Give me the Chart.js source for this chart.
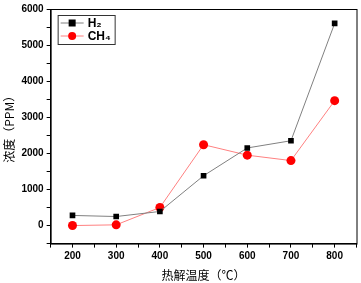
<!DOCTYPE html>
<html>
<head>
<meta charset="utf-8">
<script src="https://cdn.jsdelivr.net/npm/chart.js@4/dist/chart.umd.min.js"></script>
<style>
  body { margin: 0; background: #fff; }
  #wrap { width: 361px; height: 283px; }
</style>
</head>
<body>
<div id="wrap"><canvas id="c"></canvas></div>
<script>
const temps = [200, 300, 400, 500, 600, 700, 800];
const h2 = [280, 250, 390, 1380, 2150, 2350, 5600];
const ch4 = [0, 20, 500, 2240, 1950, 1800, 3460];
const seriesNames = ['H\u2082', 'CH\u2084'];

// frame + legend box
const framePlugin = {
  id: 'frame',
  afterDraw(chart) {
    const { ctx, chartArea: a } = chart;
    ctx.save();
    ctx.strokeStyle = '#000';
    ctx.lineWidth = 1;
    ctx.strokeRect(a.left + 0.5, a.top + 0.5, a.right - a.left, a.bottom - a.top);

    // legend
    const lx = a.left + 7, ly = a.top + 6, lw = 57, lh = 29;
    ctx.strokeStyle = '#333';
    ctx.strokeRect(lx + 0.5, ly + 0.5, lw, lh);
    const rows = [
      { y: ly + 8, line: '#808080', fill: '#000', shape: 'sq' },
      { y: ly + 21, line: '#ff8080', fill: '#ff0000', shape: 'ci' }
    ];
    rows.forEach((r, i) => {
      ctx.strokeStyle = r.line;
      ctx.beginPath();
      ctx.moveTo(lx + 3, r.y);
      ctx.lineTo(lx + 26, r.y);
      ctx.stroke();
      ctx.fillStyle = r.fill;
      if (r.shape === 'sq') ctx.fillRect(lx + 11, r.y - 3.5, 7, 7);
      else { ctx.beginPath(); ctx.arc(lx + 14.5, r.y, 4, 0, Math.PI * 2); ctx.fill(); }
      ctx.fillStyle = '#000';
      ctx.font = 'bold 12px "Liberation Sans", Arial, sans-serif';
      ctx.textBaseline = 'middle';
      ctx.fillText(seriesNames[i], lx + 30, r.y + 1);
    });
    ctx.restore();
  }
};

new Chart(document.getElementById('c'), {
  type: 'line',
  data: {
    datasets: [
      {
        label: seriesNames[0],
        data: temps.map((t, i) => ({ x: t, y: h2[i] })),
        borderColor: '#808080',
        backgroundColor: '#000',
        borderWidth: 1,
        pointStyle: 'rect',
        pointRadius: 4,
        pointBorderWidth: 0,
        tension: 0
      },
      {
        label: seriesNames[1],
        data: temps.map((t, i) => ({ x: t, y: ch4[i] })),
        borderColor: '#ff8080',
        backgroundColor: '#ff0000',
        borderWidth: 1,
        pointStyle: 'circle',
        pointRadius: 4.5,
        pointBorderWidth: 0,
        tension: 0
      }
    ]
  },
  options: {
    responsive: true,
    maintainAspectRatio: false,
    animation: false,
    layout: { padding: { top: 8, right: 3, left: 2, bottom: 0 } },
    plugins: { legend: { display: false }, tooltip: { enabled: false } },
    scales: {
      x: {
        type: 'linear',
        min: 150,
        max: 850,
        border: { color: '#000', width: 1 },
        grid: { drawOnChartArea: false, tickLength: 4, color: '#000' },
        ticks: {
          stepSize: 50,
          color: '#000',
          font: { family: '"Liberation Sans", Arial, sans-serif', size: 10, weight: 'bold' },
          maxRotation: 0,
          autoSkip: false,
          callback: v => (v % 100 === 0 && v >= 200 && v <= 800) ? v : ''
        },
        title: {
          display: true,
          text: '热解温度（℃）',
          color: '#000',
          font: { family: '"Noto Sans CJK SC", sans-serif', size: 12 },
          padding: { top: 3, bottom: 0 }
        }
      },
      y: {
        min: -500,
        max: 6000,
        border: { color: '#000', width: 1 },
        grid: { drawOnChartArea: false, tickLength: 4, color: '#000' },
        ticks: {
          stepSize: 500,
          color: '#000',
          font: { family: '"Liberation Sans", Arial, sans-serif', size: 10, weight: 'bold' },
          autoSkip: false,
          callback: v => (v % 1000 === 0 && v >= 0) ? v : ''
        },
        title: {
          display: true,
          text: '浓度（PPM）',
          color: '#000',
          font: { family: '"Noto Sans CJK SC", sans-serif', size: 12 },
          padding: { top: 0, bottom: 2 }
        }
      }
    }
  },
  plugins: [framePlugin]
});
</script>
</body>
</html>
